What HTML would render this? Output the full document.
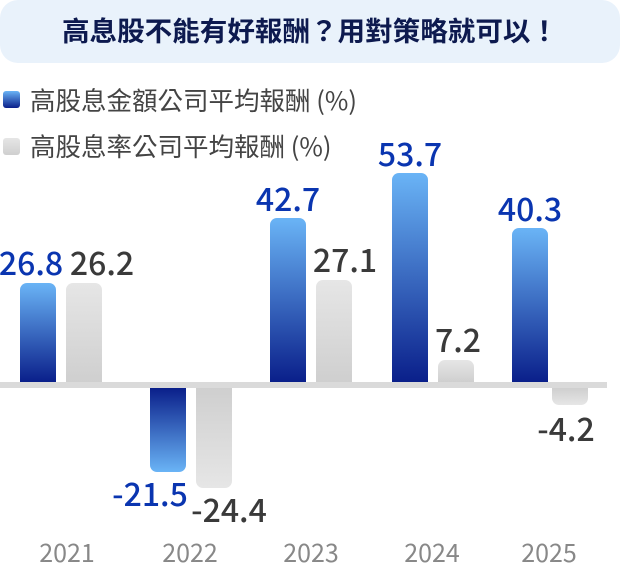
<!DOCTYPE html>
<html><head><meta charset="utf-8"><style>
body{margin:0;width:620px;height:570px;background:#fff;overflow:hidden;font-family:"Noto Sans CJK TC","Liberation Sans",sans-serif}
</style></head><body>
<svg width="620" height="570" xmlns="http://www.w3.org/2000/svg" style="font-family:'Noto Sans CJK TC','Liberation Sans',sans-serif">
<defs>
<linearGradient id="bu" x1="0" y1="0" x2="0" y2="1"><stop offset="0" stop-color="#6ab4f6"/><stop offset="1" stop-color="#0a1f8a"/></linearGradient>
<linearGradient id="bd" x1="0" y1="1" x2="0" y2="0"><stop offset="0" stop-color="#6ab4f6"/><stop offset="1" stop-color="#0a1f8a"/></linearGradient>
<linearGradient id="gu" x1="0" y1="0" x2="0" y2="1"><stop offset="0" stop-color="#e6e6e6"/><stop offset="1" stop-color="#cfcfcf"/></linearGradient>
<linearGradient id="gd" x1="0" y1="1" x2="0" y2="0"><stop offset="0" stop-color="#e6e6e6"/><stop offset="1" stop-color="#cfcfcf"/></linearGradient>
</defs>
<rect x="0" y="0" width="620" height="63" rx="18" fill="#e9f2fb"/>
<text x="310" y="41" text-anchor="middle" font-size="27" font-weight="bold" fill="#0d1a4f" textLength="496" lengthAdjust="spacingAndGlyphs">高息股不能有好報酬？用對策略就可以！</text>
<rect x="3" y="91" width="17" height="17" rx="3" fill="url(#bu)"/>
<text x="30" y="110" font-size="25.5" fill="#444">高股息金額公司平均報酬 (%)</text>
<rect x="3" y="138" width="17" height="17" rx="3" fill="url(#gu)"/>
<text x="30" y="156" font-size="25.5" fill="#444">高股息率公司平均報酬 (%)</text>
<rect x="0" y="382" width="607" height="6" fill="#dadada"/>
<path d="M20 382V290a7 7 0 0 1 7-7h22a7 7 0 0 1 7 7V382Z" fill="url(#bu)"/>
<path d="M66 382V290a7 7 0 0 1 7-7h22a7 7 0 0 1 7 7V382Z" fill="url(#gu)"/>
<path d="M150 388V465a7 7 0 0 0 7 7h22a7 7 0 0 0 7-7V388Z" fill="url(#bd)"/>
<path d="M196 388V481a7 7 0 0 0 7 7h22a7 7 0 0 0 7-7V388Z" fill="url(#gd)"/>
<path d="M270 382V225a7 7 0 0 1 7-7h22a7 7 0 0 1 7 7V382Z" fill="url(#bu)"/>
<path d="M316 382V287a7 7 0 0 1 7-7h22a7 7 0 0 1 7 7V382Z" fill="url(#gu)"/>
<path d="M392 382V180a7 7 0 0 1 7-7h22a7 7 0 0 1 7 7V382Z" fill="url(#bu)"/>
<path d="M438 382V367a7 7 0 0 1 7-7h22a7 7 0 0 1 7 7V382Z" fill="url(#gu)"/>
<path d="M512 382V235a7 7 0 0 1 7-7h22a7 7 0 0 1 7 7V382Z" fill="url(#bu)"/>
<path d="M552 388V398a7 7 0 0 0 7 7h22a7 7 0 0 0 7-7V388Z" fill="url(#gd)"/>
<g font-size="32" font-weight="500" text-anchor="middle">
<text x="31" y="275" fill="#0a35b0">26.8</text>
<text x="102" y="275" fill="#3a3a3a">26.2</text>
<text x="150" y="506" fill="#0a35b0">-21.5</text>
<text x="229" y="522" fill="#3a3a3a">-24.4</text>
<text x="288" y="211" fill="#0a35b0">42.7</text>
<text x="345" y="272" fill="#3a3a3a">27.1</text>
<text x="410" y="166" fill="#0a35b0">53.7</text>
<text x="458" y="352" fill="#3a3a3a">7.2</text>
<text x="530" y="221" fill="#0a35b0">40.3</text>
<text x="566" y="441" fill="#3a3a3a">-4.2</text>
</g>
<g font-size="25" text-anchor="middle" fill="#888">
<text x="67" y="562">2021</text>
<text x="190" y="562">2022</text>
<text x="311" y="562">2023</text>
<text x="432" y="562">2024</text>
<text x="549" y="562">2025</text>
</g>
</svg>
</body></html>
